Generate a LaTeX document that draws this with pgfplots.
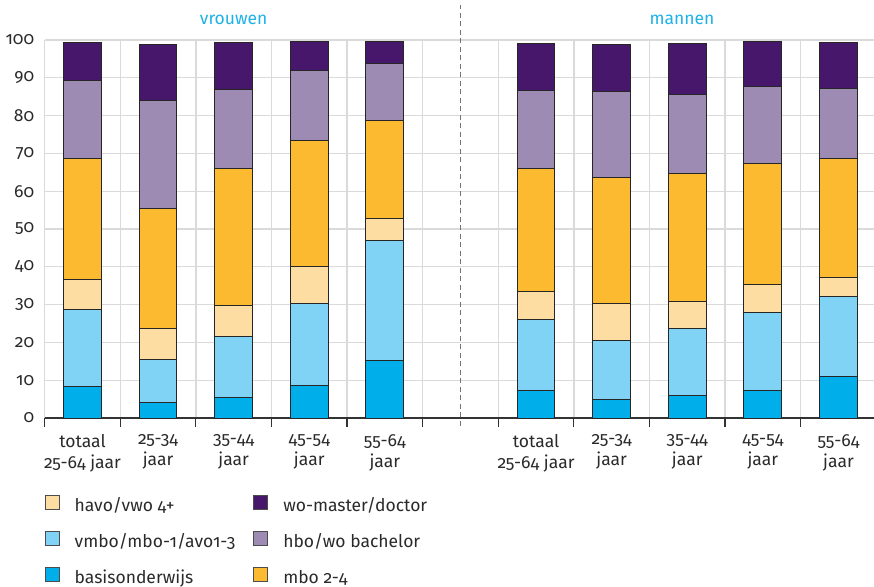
\documentclass[border=0pt]{standalone}
\usepackage{fontspec}
\setmainfont{Fira Sans}[Numbers=OldStyle]
\usepackage{pgfplots}
\usepackage{pgfplotstable}
\pgfplotsset{compat=1.18}
\definecolor{cBasis}{HTML}{00AEEA}
\definecolor{cVmbo}{HTML}{80D3F5}
\definecolor{cHavo}{HTML}{FDDDA1}
\definecolor{cMbo}{HTML}{FBBA2F}
\definecolor{cHbo}{HTML}{9D8BB3}
\definecolor{cWo}{HTML}{47176B}
\definecolor{cTitle}{HTML}{1EB1E7}
\definecolor{cGrid}{HTML}{DADADA}
\definecolor{cText}{HTML}{2A2A2A}

\pgfplotstableread{
x    basis vmbo havo mbo  hbo  wo
0.5  8.3   20.5 7.9  31.9 20.7 10.1
1.5  4.1   11.4 8.1  31.9 28.5 14.9
2.5  5.4   16.2 8.2  36.2 21.0 12.4
3.5  8.6   21.8 9.8  33.3 18.3 7.9
4.5  15.3  31.6 5.9  25.9 15.1 5.9
6.5  7.2   18.9 7.4  32.6 20.6 12.3
7.5  4.8   15.6 10.0 33.1 22.9 12.4
8.5  5.9   17.7 7.2  33.8 20.9 13.5
9.5  7.2   20.8 7.4  31.8 20.5 11.8
10.5 11.1  21.0 5.2  31.3 18.6 12.2
}\data

\begin{document}
\begin{tikzpicture}
\begin{axis}[
  at={(0,0)}, anchor=south west,
  scale only axis, width=829.3pt, height=378pt,
  xmin=0, xmax=10.97, ymin=0, ymax=100,
  ybar stacked, bar width=0.5,
  clip=false,
  axis x line*=bottom, axis y line*=left,
  x axis line style={draw=black!80, line width=1.2pt, -},
  y axis line style={draw=none},
  xtick={0,...,10}, xticklabels={},
  xtick align=outside,
  major tick length=9pt,
  xtick style={draw=black!80, line width=1.2pt},
  ytick={0,10,...,100}, ytick style={draw=none},
  grid=major, major grid style={cGrid, line width=1.3pt},
  extra x ticks={0.5,1.5,2.5,3.5,4.5,6.5,7.5,8.5,9.5,10.5},
  extra x tick labels={{totaal\\25-64 jaar},{25-34\\jaar},{35-44\\jaar},{45-54\\jaar},{55-64\\jaar},{totaal\\25-64 jaar},{25-34\\jaar},{35-44\\jaar},{45-54\\jaar},{55-64\\jaar}},
  extra x tick style={major tick length=0pt, grid=none},
  xticklabel style={align=center, yshift=-13pt},
  yticklabel style={xshift=-7pt},
  tick label style={font=\fontsize{17.5}{21}\selectfont, text=cText},
  /pgf/number format/assume math mode=true,
  legend columns=2,
  legend cell align=left,
  legend image code/.code={\draw[#1, draw=black!70, line width=1pt] (0pt,-2pt) rectangle (14pt,12pt);},
  legend style={draw=none, fill=none, inner sep=0pt, outer sep=0pt,
    at={(axis description cs:0,0)}, anchor=north west, yshift=-76.5pt,
    font=\fontsize{17.5}{21}\selectfont, text=cText,
    nodes={inner sep=0pt, text height=13pt, text depth=4pt},
    row sep=15pt,
    /tikz/every odd column/.append style={column sep=15pt},
    /tikz/every even column/.append style={column sep=18pt}},
  every axis plot/.append style={draw=black!85, line width=1pt},
]
\addplot[fill=cBasis, forget plot] table[x=x, y=basis] {\data};
\addplot[fill=cVmbo, forget plot] table[x=x, y=vmbo] {\data};
\addplot[fill=cHavo, forget plot] table[x=x, y=havo] {\data};
\addplot[fill=cMbo, forget plot] table[x=x, y=mbo] {\data};
\addplot[fill=cHbo, forget plot] table[x=x, y=hbo] {\data};
\addplot[fill=cWo, forget plot] table[x=x, y=wo] {\data};

\addlegendimage{fill=cHavo}\addlegendentry{havo/vwo 4+}
\addlegendimage{fill=cWo}\addlegendentry{wo-master/doctor}
\addlegendimage{fill=cVmbo}\addlegendentry{vmbo/mbo-1/avo1-3}
\addlegendimage{fill=cHbo}\addlegendentry{hbo/wo bachelor}
\addlegendimage{fill=cBasis}\addlegendentry{basisonderwijs}
\addlegendimage{fill=cMbo}\addlegendentry{mbo 2-4}

\node[font=\fontsize{17.5}{21}\selectfont, text=cTitle] at (axis cs:2.5,105.4) {vrouwen};
\node[font=\fontsize{17.5}{21}\selectfont, text=cTitle] at (axis cs:8.43,105.4) {mannen};
\draw[black!55, line width=1pt, dash pattern=on 5pt off 3.5pt] (axis cs:5.5,-2.1) -- (axis cs:5.5,109.3);
\end{axis}
\pgfresetboundingbox
\path (-44.7pt,-168pt) rectangle (829.3pt,418pt);
\end{tikzpicture}
\end{document}
